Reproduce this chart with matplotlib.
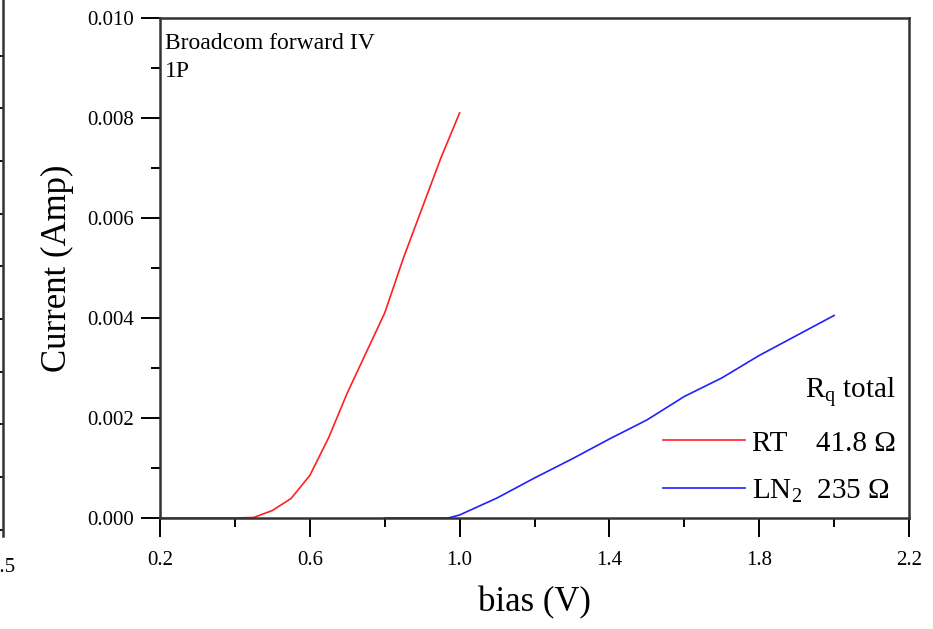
import numpy as np
import matplotlib.pyplot as plt
from matplotlib.ticker import MultipleLocator, FormatStrFormatter

plt.rcParams['font.family'] = ['Liberation Serif', 'DejaVu Serif']
plt.rcParams['mathtext.fontset'] = 'custom'
plt.rcParams['mathtext.rm'] = 'Liberation Serif'
plt.rcParams['mathtext.default'] = 'regular'

# RT (room temperature) forward IV
bias_rt = [0.2, 0.25, 0.3, 0.35, 0.4, 0.45, 0.5, 0.55, 0.6, 0.65, 0.7,
           0.75, 0.8, 0.85, 0.9, 0.95, 1.0]
cur_rt = [0.0, 0.0, 0.0, 0.0, 0.0, 0.00001, 0.00015, 0.00039, 0.00085, 0.0016,
          0.0025, 0.0033, 0.0041, 0.0052, 0.0062, 0.0072, 0.0081]

# LN2 forward IV
bias_ln2 = [0.8, 0.9, 0.97, 1.0, 1.1, 1.2, 1.3, 1.4, 1.5, 1.6, 1.7, 1.8, 1.9, 2.0]
cur_ln2 = [0.0, 0.0, 0.0, 0.00006, 0.0004, 0.0008, 0.00118, 0.00158, 0.00196,
           0.00243, 0.0028, 0.00325, 0.00365, 0.00405]

labels = ['RT    41.8 Ω', 'LN$_2$  235 Ω']
xticks = [0.2, 0.6, 1.0, 1.4, 1.8, 2.2]

fig = plt.figure(figsize=(9.33, 6.29), dpi=100)
ax = fig.add_axes([0.1715, 0.1765, 0.8028, 0.795])

ax.plot(bias_rt, cur_rt, color='#ff2020', lw=1.2, label=labels[0])
ax.plot(bias_ln2, cur_ln2, color='#2020ff', lw=1.2, label=labels[1])

ax.set_xlim(0.2, 2.2)
ax.set_ylim(0.0, 0.010)
ax.set_xticks(xticks)
ax.xaxis.set_minor_locator(MultipleLocator(0.2))
ax.yaxis.set_major_locator(MultipleLocator(0.002))
ax.yaxis.set_minor_locator(MultipleLocator(0.001))
ax.xaxis.set_major_formatter(FormatStrFormatter('%.1f'))
ax.yaxis.set_major_formatter(FormatStrFormatter('%.3f'))
ax.tick_params(which='major', direction='out', length=13.5, width=1.4, labelsize=15)
ax.tick_params(which='minor', direction='out', length=6.5, width=1.4)
ax.tick_params(axis='x', which='major', pad=10)
ax.tick_params(axis='y', which='major', pad=5)
for s in ax.spines.values():
    s.set_linewidth(1.8)
    s.set_color('#333333')

ax.set_xlabel('bias (V)', fontsize=25, labelpad=12)
ax.set_ylabel('Current (Amp)', fontsize=25, labelpad=10)

ax.text(0.006, 0.97, 'Broadcom forward IV\n1P', transform=ax.transAxes,
        va='top', ha='left', fontsize=17, linespacing=1.45)

leg = ax.legend(loc='lower right', frameon=False, fontsize=21, handlelength=2.8,
                handletextpad=0.25, labelspacing=0.72, borderaxespad=0.05,
                title='R$_q$ total', title_fontsize=21, alignment='right')

# edge of a neighbouring panel
ax2 = fig.add_axes([-0.2, 0.148, 0.2027, 0.9])
for k in ['top', 'left', 'bottom']:
    ax2.spines[k].set_visible(False)
ax2.spines['right'].set_linewidth(1.8)
ax2.spines['right'].set_color('#333333')
ax2.set_xlim(0, 2.5)
ax2.set_xticks([2.5])
ax2.set_xticklabels(['2.5'])
ax2.set_ylim(0, 10.74)
ax2.set_yticks(np.arange(10) + 0.114)
ax2.yaxis.tick_right()
ax2.tick_params(axis='y', direction='in', length=8, width=1.3, labelright=False)
ax2.tick_params(axis='x', length=0, labelsize=15, pad=16)
ax2.patch.set_visible(False)

fig.savefig('out.png', dpi=100)
